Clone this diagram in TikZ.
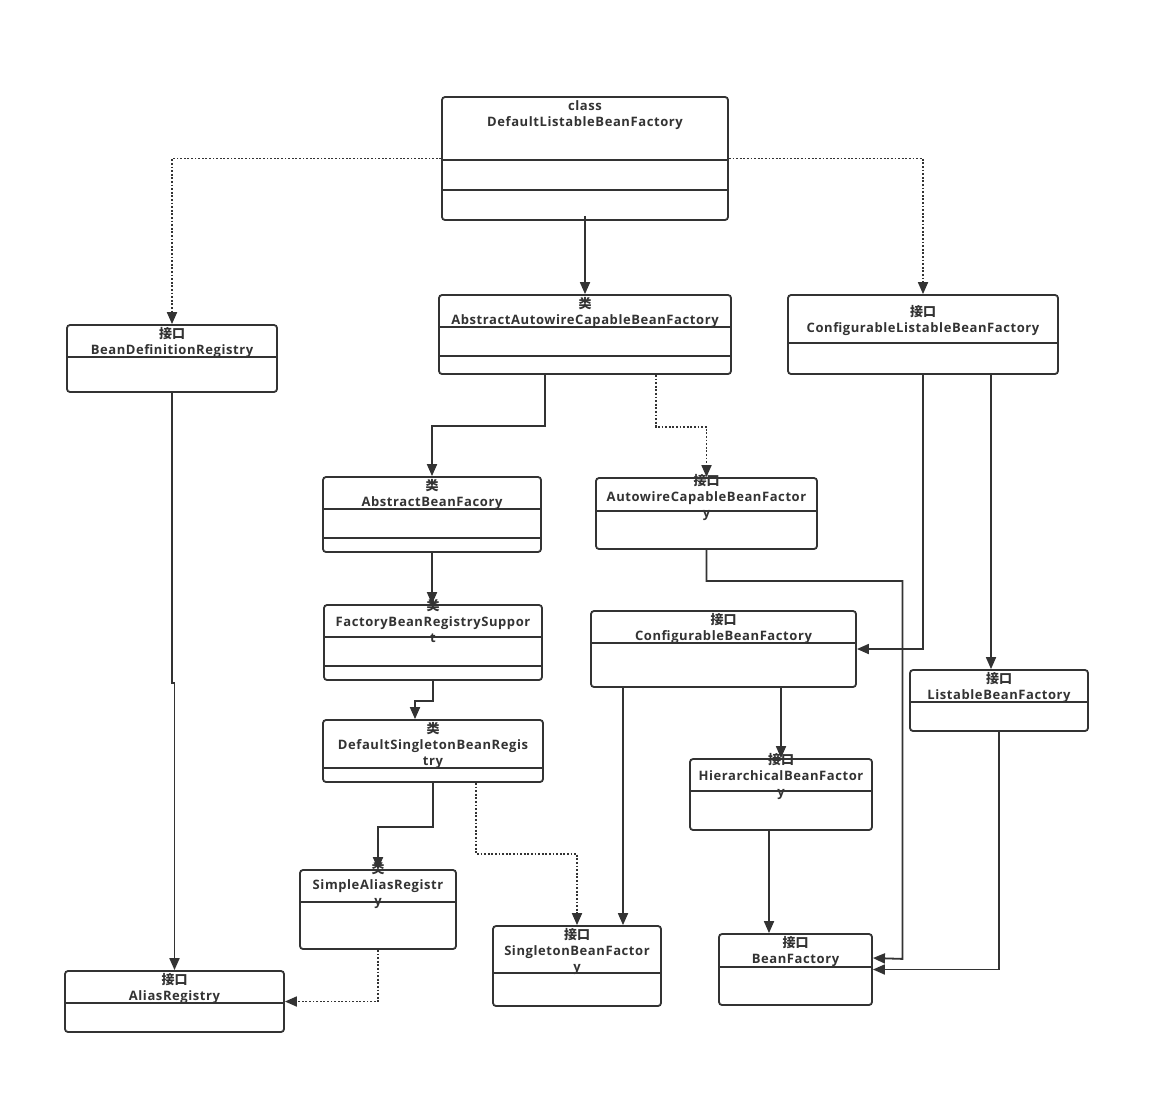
\documentclass[tikz,border=0pt]{standalone}
\usepackage{fontspec}
\setmainfont{Open Sans}[LetterSpace=4.5]
\newfontfamily\cjkfont{Noto Sans CJK SC}
\usetikzlibrary{arrows.meta}
\definecolor{ink}{HTML}{333333}
\newcommand\zh[1]{{\cjkfont\bfseries #1}}
\tikzset{
  ubox/.style={draw=ink, line width=1.8pt, rounded corners=3pt, inner sep=0pt, fill=white},
  lbl/.style={anchor=north, inner sep=0pt, align=center, text=ink,
    font=\fontsize{13}{16}\selectfont\bfseries},
  edge/.style={draw=ink, line width=1.8pt, -{Triangle[length=12pt,width=10pt]}},
  dotedge/.style={edge, dash pattern=on 1.8pt off 1.8pt},
  divider/.style={draw=ink, line width=1.8pt}
}
% name, cx, cy, W, H, dividers
\newcommand\umlbox[6]{%
  \node[ubox, minimum width=#4pt, minimum height=#5pt] (#1) at (#2,#3) {};
  \foreach \dd in {#6} {\draw[divider] (#1.west |- 0,\dd) -- (#1.east |- 0,\dd);}
}
\newcommand\umltext[4]{%
  \node[lbl] (#1-t) at (#2,#3) {\rule{0pt}{12pt}#4};
}
\begin{document}
\begin{tikzpicture}[x=1pt,y=-1pt]
\useasboundingbox[fill=white] (0,0) rectangle (1150,1095);

% boxes
\umlbox{dlbf}{585}{158.5}{286}{123}{160,190}
\umlbox{aacbf}{585}{334.5}{292}{79}{327,356}
\umlbox{clbf}{923}{334.5}{270}{79}{343}
\umlbox{bdr}{172}{358.5}{210}{67}{357}
\umlbox{abf}{432}{514.5}{218}{75}{509,538}
\umlbox{acbf}{706.5}{513.5}{221}{71}{511}
\umlbox{fbrs}{433}{642.5}{218}{75}{637,666}
\umlbox{cbf}{723.5}{649}{265}{76}{643}
\umlbox{lbf}{999}{700.5}{178}{61}{702}
\umlbox{dsbr}{433}{751}{220}{62}{768}
\umlbox{hbf}{781}{794.5}{182}{71}{791}
\umlbox{sar}{378}{909.5}{156}{79}{902}
\umlbox{ar}{174.5}{1001.5}{219}{61}{1003}
\umlbox{sbf}{577}{966}{168}{80}{973}
\umlbox{bf}{795.5}{969.5}{153}{71}{967}

% edges
\draw[dotedge] (dlbf.west) -| (bdr.north);
\draw[dotedge] (dlbf.east) -| (clbf.north);
\draw[edge] ([yshift=5pt]dlbf.south) -- (aacbf.north);
\draw[edge] ([xshift=-40pt]aacbf.south) -- ++(0,51) -| (abf.north);
\draw[dotedge] ([xshift=71pt]aacbf.south) -- ++(0,52) -| (acbf.north);
\draw[edge] (abf.south) -- (abf.south |- fbrs.north);
\draw[edge] (fbrs.south) -- ++(0,20) -| ([xshift=-18pt]dsbr.north);
\draw[edge] (dsbr.south) -- ++(0,44) -| (sar.north);
\draw[dotedge] ([xshift=43pt]dsbr.south) -- ++(0,71) -| (sbf.north);
\draw[dotedge] (sar.south) |- (ar.east);
\draw[edge] (bdr.south) -- ++(0,290) -| (ar.north);
\draw[edge] (clbf.south) |- (cbf.east);
\draw[edge] ([xshift=-8pt]lbf.north |- clbf.south) -- ([xshift=-8pt]lbf.north);
\draw[edge] (acbf.south) -- ++(0,31) -| ++(196,378) -- ([yshift=11.5pt]bf.east);
\draw[edge] (lbf.south) |- (bf.east);
\draw[edge] (hbf.north |- cbf.south) -- (hbf.north);
\draw[edge] ([xshift=46pt]sbf.north |- cbf.south) -- ([xshift=46pt]sbf.north);
\draw[edge] ([xshift=-12pt]hbf.south) -- ([xshift=-12pt]hbf.south |- bf.north);

% texts
\umltext{dlbf}{585}{98}{class\\DefaultListableBeanFactory}
\umltext{aacbf}{585}{296}{\zh{类}\\AbstractAutowireCapableBeanFactory}
\umltext{clbf}{923}{304}{\zh{接口}\\ConfigurableListableBeanFactory}
\umltext{bdr}{172}{326}{\zh{接口}\\BeanDefinitionRegistry}
\umltext{abf}{432}{478}{\zh{类}\\AbstractBeanFacory}
\umltext{acbf}{706.5}{473}{\zh{接口}\\AutowireCapableBeanFactor\\y}
\umltext{fbrs}{433}{598}{\zh{类}\\FactoryBeanRegistrySuppor\\t}
\umltext{cbf}{723.5}{612}{\zh{接口}\\ConfigurableBeanFactory}
\umltext{lbf}{999}{671}{\zh{接口}\\ListableBeanFactory}
\umltext{dsbr}{433}{721}{\zh{类}\\DefaultSingletonBeanRegis\\try}
\umltext{hbf}{781}{752}{\zh{接口}\\HierarchicalBeanFactor\\y}
\umltext{sar}{378}{861}{\zh{类}\\SimpleAliasRegistr\\y}
\umltext{ar}{174.5}{972}{\zh{接口}\\AliasRegistry}
\umltext{sbf}{577}{927}{\zh{接口}\\SingletonBeanFactor\\y}
\umltext{bf}{795.5}{935}{\zh{接口}\\BeanFactory}
\end{tikzpicture}
\end{document}
